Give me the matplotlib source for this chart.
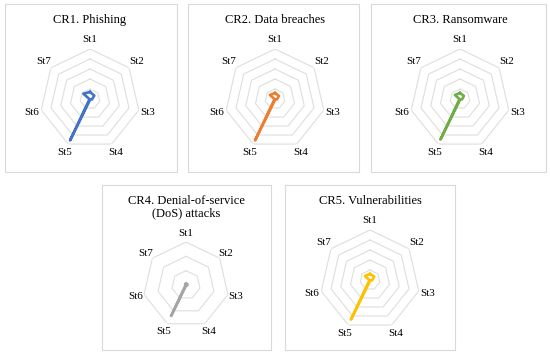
import numpy as np
import matplotlib
matplotlib.use('Agg')
from matplotlib import pyplot as plt
from matplotlib.patches import Rectangle

plt.rcParams['font.family'] = ['Liberation Serif', 'DejaVu Serif']

# data
axis_labels = ['St1', 'St2', 'St3', 'St4', 'St5', 'St6', 'St7']
titles = ['CR1. Phishing', 'CR2. Data breaches', 'CR3. Ransomware',
          'CR4. Denial-of-service\n(DoS) attacks', 'CR5. Vulnerabilities']
cr1 = [0.7, 0.55, 0.2, 0.05, 4.6, 0.05, 0.85]
cr2 = [0.6, 0.5, 0.2, 0.05, 4.6, 0.05, 0.65]
cr3 = [0.6, 0.5, 0.2, 0.05, 4.5, 0.05, 0.65]
cr4 = [0.1, 0.12, 0.1, 0.03, 2.4, 0.03, 0.08]
cr5 = [0.6, 0.55, 0.2, 0.05, 4.4, 0.05, 0.65]
ring_levels = [[1, 2, 3, 4, 5], [1, 2, 3, 4, 5], [1, 2, 3, 4, 5], [1, 2, 3], [1, 2, 3, 4, 5]]
series = [cr1, cr2, cr3, cr4, cr5]
colors = ['#4472C4', '#ED7D31', '#70AD47', '#A5A5A5', '#FFC000']

# layout in pixels (x, y from top)
W, H = 550, 354
boxes = [(5, 4, 172, 168), (188, 4, 171, 168), (371, 4, 175, 168),
         (102, 185, 169, 165), (285, 185, 170, 165)]
centers = [(90, 99, 50), (275, 99, 50), (460, 99, 50), (186, 285, 43), (370, 280, 50)]
title_y = [20, 20, 20, 207, 201]

fig = plt.figure(figsize=(W / 100, H / 100), dpi=100)

for bx, by, bw, bh in boxes:
    fig.add_artist(Rectangle((bx / W, 1 - (by + bh) / H), bw / W, bh / H,
                             transform=fig.transFigure, fill=False,
                             edgecolor='#d9d9d9', lw=0.8))

theta = np.linspace(0, 2 * np.pi, len(axis_labels), endpoint=False)
theta_c = np.append(theta, theta[0])

for i in range(5):
    cx, cy, R = centers[i]
    ax = fig.add_axes([(cx - R) / W, 1 - (cy + R) / H, 2 * R / W, 2 * R / H],
                      projection='polar')
    ax.set_theta_offset(np.pi / 2)
    ax.set_theta_direction(-1)
    rmax = ring_levels[i][-1]
    ax.set_ylim(0, rmax)
    ax.axis('off')
    for lv in ring_levels[i]:
        ax.plot(theta_c, [lv] * len(theta_c), color='#dedede', lw=0.8, zorder=1)
    vals = series[i] + [series[i][0]]
    ax.plot(theta_c, vals, color=colors[i], lw=1.9, zorder=3)
    for t, lab in zip(theta, axis_labels):
        ax.text(t, rmax * 1.19, lab, ha='center', va='center', fontsize=8,
                clip_on=False)
    fig.text(cx / W, 1 - title_y[i] / H, titles[i], ha='center', va='center',
             fontsize=9, linespacing=1.1)

fig.savefig('out.png', dpi=100)
